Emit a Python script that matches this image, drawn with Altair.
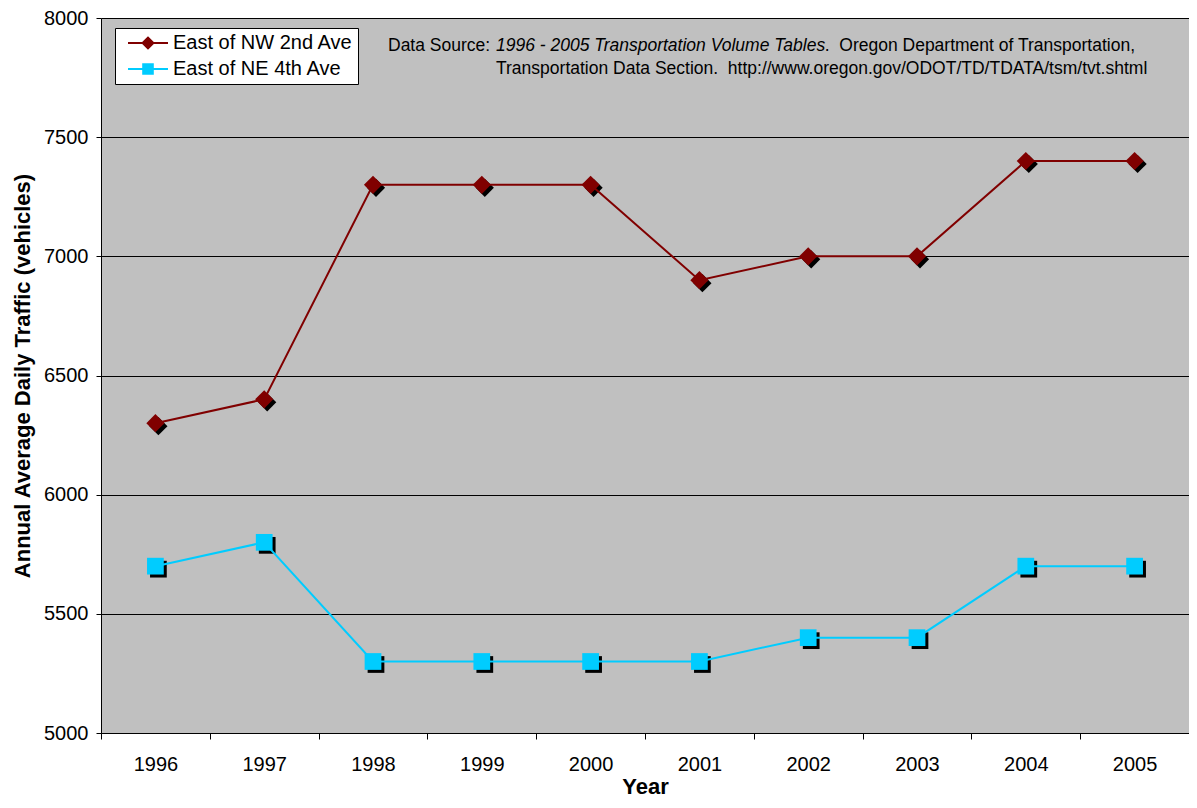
import altair as alt
import pandas as pd

# ---- data ----
years = [1996, 1997, 1998, 1999, 2000, 2001, 2002, 2003, 2004, 2005]
nw_2nd_ave = [6300, 6400, 7300, 7300, 7300, 6900, 7000, 7000, 7400, 7400]
ne_4th_ave = [5700, 5800, 5300, 5300, 5300, 5300, 5400, 5400, 5700, 5700]
series_names = ["East of NW 2nd Ave", "East of NE 4th Ave"]
y_ticks = [5000, 5500, 6000, 6500, 7000, 7500, 8000]
source_line1 = ["Data Source: ", "1996 - 2005 Transportation Volume Tables",
                ".\u00a0 Oregon Department of Transportation,"]
source_line2 = ["Transportation Data Section.\u00a0 http://www.oregon.gov/ODOT/TD/TDATA/tsm/tvt.shtml"]

# ---- styles ----
series_colors = ["#800000", "#00CCFF"]
legend_paths = [
    "M-3.33,0L-0.9,0M0.9,0L3.33,0M-0.9,0L0,-0.9L0.9,0L0,0.9Z",
    "M-3.33,0L-0.8,0M0.8,0L3.33,0M-0.8,-0.8L0.8,-0.8L0.8,0.8L-0.8,0.8Z",
]
FONT = "Liberation Sans"

df = pd.DataFrame({
    "year": years + years,
    "aadt": nw_2nd_ave + ne_4th_ave,
    "series": [series_names[0]] * len(years) + [series_names[1]] * len(years),
})

x_enc = alt.X(
    "year:O",
    scale=alt.Scale(type="band", paddingInner=0, paddingOuter=0),
    bandPosition=0.5,
    axis=alt.Axis(
        title="Year", labelAngle=0, tickBand="extent", tickSize=6,
        tickColor="black", domainColor="black", domainWidth=1,
        labelFont=FONT, labelFontSize=20, labelColor="black", labelPadding=15,
        titleFont=FONT, titleFontSize=22, titleFontWeight="bold", titleColor="black",
        titlePadding=2, grid=False,
    ),
)
y_enc = alt.Y(
    "aadt:Q",
    scale=alt.Scale(domain=[5000, 8000], nice=False, zero=False),
    axis=alt.Axis(
        values=y_ticks, format="d", title="Annual Average Daily Traffic (vehicles)",
        grid=True, gridColor="black", gridWidth=1, gridOpacity=1,
        tickSize=5, tickColor="black", domainColor="black", domainWidth=1,
        labelFont=FONT, labelFontSize=20, labelColor="black", labelPadding=8,
        titleFont=FONT, titleFontSize=22, titleFontWeight="bold", titleColor="black",
        titlePadding=9,
    ),
)

color_scale = alt.Scale(domain=series_names, range=series_colors)
leg = alt.Legend(
    title=None, orient="none", legendX=14, legendY=10, padding=5,
    fillColor="white", strokeColor="black",
    labelFont=FONT, labelFontSize=20, labelColor="black", labelLimit=400,
    symbolOffset=18, labelOffset=15, rowPadding=6,
    symbolSize=144, symbolStrokeWidth=2, symbolOpacity=1,
)

base = alt.Chart(df).encode(x=x_enc, y=y_enc)

lines = base.mark_line(strokeWidth=2).encode(
    color=alt.Color("series:N", scale=color_scale, legend=None)
)

nw = base.transform_filter(alt.datum.series == series_names[0])
ne = base.transform_filter(alt.datum.series == series_names[1])

shadow_d = nw.mark_point(shape="diamond", size=330, filled=True, color="black",
                         opacity=1, strokeWidth=0, xOffset=3, yOffset=3)
shadow_s = ne.mark_point(shape="square", size=280, filled=True, color="black",
                         opacity=1, strokeWidth=0, xOffset=3, yOffset=3)
marker_d = nw.mark_point(shape="diamond", size=330, filled=True, opacity=1,
                         strokeWidth=0).encode(
    color=alt.Color("series:N", scale=color_scale, legend=None))
marker_s = ne.mark_point(shape="square", size=280, filled=True, opacity=1,
                         strokeWidth=0).encode(
    color=alt.Color("series:N", scale=color_scale, legend=None))

# invisible layer whose only job is to carry the legend (line + marker symbols)
legend_layer = base.mark_point(
    filled=True, size=144, opacity=0, strokeWidth=2
).encode(
    fill=alt.Fill("series:N", scale=color_scale, legend=leg),
    stroke=alt.Stroke("series:N", scale=color_scale, legend=leg),
    shape=alt.Shape("series:N", scale=alt.Scale(domain=series_names, range=legend_paths), legend=leg),
)


def note(text, x, y, align="left", style="normal"):
    return alt.Chart(pd.DataFrame({"t": [text]})).mark_text(
        align=align, baseline="alphabetic", font=FONT, fontSize=17.5,
        fontStyle=style, color="black",
    ).encode(x=alt.value(x), y=alt.value(y), text="t:N")


notes = [
    note(source_line1[0], 287, 33),
    note(source_line1[1], 395, 33, style="italic"),
    note(source_line1[2], 1034, 33, align="right"),
    note(source_line2[0], 395, 56),
]

chart = alt.layer(
    legend_layer, shadow_d, shadow_s, lines, marker_d, marker_s, *notes
).properties(
    width=1088, height=715,
    autosize=alt.AutoSizeParams(type="none"),
    padding={"left": 93, "top": 10, "right": 0, "bottom": 67},
).configure_view(
    fill="#C0C0C0", stroke="transparent"
)

chart.save("out.html", embed_options={"renderer": "svg", "actions": False})
